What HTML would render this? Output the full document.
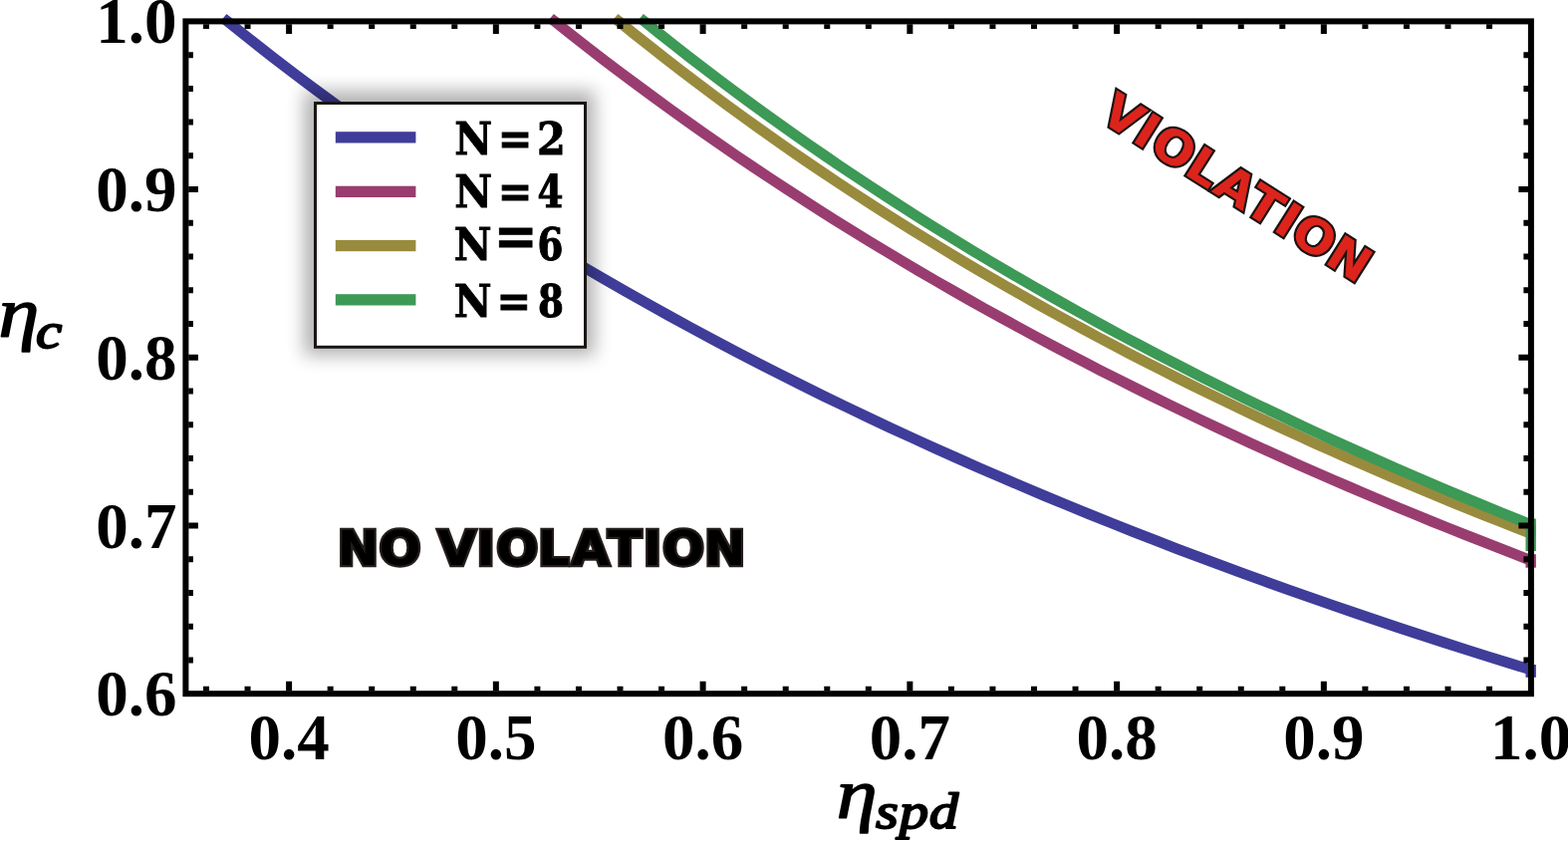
<!DOCTYPE html>
<html lang="en"><head><meta charset="utf-8"><title>Violation threshold plot</title>
<style>
html,body{margin:0;padding:0;background:#fff;}
body{width:1574px;height:844px;overflow:hidden;position:relative;}
svg{position:absolute;left:0;top:0;display:block;}
.sh{filter:blur(9px);}
.tk{font-family:"Liberation Serif","DejaVu Serif",serif;font-weight:bold;font-size:65px;fill:#000;}
.lg{font-family:"DejaVu Serif","Liberation Serif",serif;font-weight:bold;fill:#000;stroke:#000;stroke-width:0.9px;stroke-linejoin:miter;}
.cd{font-family:"DejaVu Serif Condensed","DejaVu Serif","Liberation Serif",serif;}
.ax{font-family:"Liberation Serif","DejaVu Serif",serif;font-weight:normal;font-style:italic;fill:#000;stroke:#000;stroke-linejoin:round;stroke-linecap:round;}
.hv{font-family:"DejaVu Sans","Liberation Sans",sans-serif;font-weight:bold;}
</style></head><body>
<svg width="1574" height="844" viewBox="0 0 1574 844" role="img" aria-label="Violation threshold plot">
<rect width="1574" height="844" fill="#fff"/>
<g fill="none" stroke-width="10.70" stroke-linecap="butt" stroke-linejoin="round">
<path d="M224.1,18.1 L228.3,21.4 L250.5,39.1 L272.6,56.5 L294.8,73.5 L317.0,90.1 L339.2,106.4 L361.4,122.4 L383.5,138.1 L405.7,153.5 L427.9,168.5 L450.1,183.3 L472.3,197.8 L494.4,212.1 L516.6,226.0 L538.8,239.8 L561.0,253.2 L583.2,266.5 L605.3,279.4 L627.5,292.2 L649.7,304.7 L671.9,317.0 L694.1,329.1 L716.2,341.0 L738.4,352.7 L760.6,364.2 L782.8,375.5 L805.0,386.6 L827.1,397.6 L849.3,408.3 L871.5,418.9 L893.7,429.3 L915.9,439.5 L938.0,449.6 L960.2,459.5 L982.4,469.3 L1004.6,478.9 L1026.8,488.4 L1048.9,497.7 L1071.1,506.9 L1093.3,516.0 L1115.5,524.9 L1137.7,533.7 L1159.8,542.3 L1182.0,550.9 L1204.2,559.3 L1226.4,567.6 L1248.6,575.7 L1270.7,583.8 L1292.9,591.7 L1315.1,599.5 L1337.3,607.3 L1359.5,614.9 L1381.6,622.4 L1403.8,629.8 L1426.0,637.1 L1448.2,644.3 L1470.4,651.5 L1492.5,658.5 L1514.7,665.4 L1536.9,672.2" stroke="#3f3d99"/>
<path d="M1536.7,667.0 V679.8" stroke="#3f3d99" stroke-width="10.4"/>
<path d="M552.5,18.1 L556.7,21.4 L573.3,34.6 L589.9,47.6 L606.5,60.4 L623.1,73.0 L639.8,85.4 L656.4,97.6 L673.0,109.7 L689.6,121.6 L706.2,133.3 L722.8,144.9 L739.4,156.3 L756.0,167.5 L772.7,178.6 L789.3,189.5 L805.9,200.3 L822.5,210.9 L839.1,221.4 L855.7,231.8 L872.3,242.0 L889.0,252.0 L905.6,262.0 L922.2,271.8 L938.8,281.5 L955.4,291.0 L972.0,300.5 L988.6,309.8 L1005.3,319.0 L1021.9,328.1 L1038.5,337.1 L1055.1,345.9 L1071.7,354.7 L1088.3,363.3 L1104.9,371.9 L1121.6,380.3 L1138.2,388.6 L1154.8,396.9 L1171.4,405.0 L1188.0,413.0 L1204.6,421.0 L1221.2,428.8 L1237.9,436.6 L1254.5,444.3 L1271.1,451.9 L1287.7,459.4 L1304.3,466.8 L1320.9,474.1 L1337.5,481.4 L1354.1,488.5 L1370.8,495.6 L1387.4,502.6 L1404.0,509.6 L1420.6,516.4 L1437.2,523.2 L1453.8,529.9 L1470.4,536.5 L1487.1,543.1 L1503.7,549.6 L1520.3,556.0 L1536.9,562.4" stroke="#993d71"/>
<path d="M1536.7,556.2 V569.7" stroke="#993d71" stroke-width="10.4"/>
<path d="M617.0,18.0 L621.1,21.4 L636.6,34.0 L652.2,46.3 L667.7,58.5 L683.2,70.5 L698.7,82.3 L714.3,94.0 L729.8,105.5 L745.3,116.8 L760.8,127.9 L776.3,138.9 L791.9,149.8 L807.4,160.5 L822.9,171.0 L838.4,181.4 L853.9,191.6 L869.5,201.7 L885.0,211.7 L900.5,221.6 L916.0,231.3 L931.6,240.8 L947.1,250.3 L962.6,259.6 L978.1,268.8 L993.6,277.9 L1009.2,286.9 L1024.7,295.7 L1040.2,304.5 L1055.7,313.1 L1071.3,321.6 L1086.8,330.0 L1102.3,338.4 L1117.8,346.6 L1133.3,354.7 L1148.9,362.7 L1164.4,370.6 L1179.9,378.4 L1195.4,386.1 L1210.9,393.8 L1226.5,401.3 L1242.0,408.8 L1257.5,416.1 L1273.0,423.4 L1288.6,430.6 L1304.1,437.7 L1319.6,444.8 L1335.1,451.7 L1350.6,458.6 L1366.2,465.4 L1381.7,472.1 L1397.2,478.8 L1412.7,485.4 L1428.2,491.9 L1443.8,498.3 L1459.3,504.7 L1474.8,511.0 L1490.3,517.2 L1505.9,523.4 L1521.4,529.4 L1536.9,535.5" stroke="#998b3d"/>
<path d="M1536.7,526.0 V539.0" stroke="#998b3d" stroke-width="10.4"/>
<path d="M642.5,18.1 L646.7,21.4 L661.8,33.5 L676.8,45.4 L691.9,57.2 L707.0,68.8 L722.1,80.2 L737.2,91.5 L752.3,102.6 L767.4,113.6 L782.5,124.4 L797.6,135.1 L812.6,145.6 L827.7,156.0 L842.8,166.3 L857.9,176.4 L873.0,186.4 L888.1,196.3 L903.2,206.1 L918.3,215.7 L933.4,225.2 L948.4,234.5 L963.5,243.8 L978.6,253.0 L993.7,262.0 L1008.8,270.9 L1023.9,279.7 L1039.0,288.4 L1054.1,297.0 L1069.2,305.5 L1084.2,313.9 L1099.3,322.2 L1114.4,330.5 L1129.5,338.6 L1144.6,346.6 L1159.7,354.5 L1174.8,362.3 L1189.9,370.1 L1204.9,377.7 L1220.0,385.3 L1235.1,392.8 L1250.2,400.2 L1265.3,407.5 L1280.4,414.7 L1295.5,421.9 L1310.6,429.0 L1325.7,436.0 L1340.7,442.9 L1355.8,449.7 L1370.9,456.5 L1386.0,463.2 L1401.1,469.9 L1416.2,476.4 L1431.3,482.9 L1446.4,489.4 L1461.5,495.7 L1476.5,502.0 L1491.6,508.3 L1506.7,514.4 L1521.8,520.5 L1536.9,526.6" stroke="#3d9956"/>
<path d="M1536.7,520.5 V553.0" stroke="#3d9956" stroke-width="10.4"/>
</g>
<rect x="305.0" y="91.0" width="292.0" height="265.8" fill="#000" opacity="0.30" class="sh"/>
<rect x="316.5" y="103.5" width="271.0" height="244.8" fill="#fff" stroke="#1a1614" stroke-width="3"/>
<rect x="336.8" y="132.2" width="80.6" height="11.3" fill="#3f3d99"/>
<rect x="336.8" y="186.7" width="80.6" height="11.3" fill="#993d71"/>
<rect x="336.8" y="240.9" width="80.6" height="11.3" fill="#998b3d"/>
<rect x="336.8" y="295.2" width="80.6" height="11.3" fill="#3d9956"/>
<g transform="translate(0,154.7) scale(0.940,1)"><text class="lg" font-size="44.0" x="485.35" y="0">N<tspan x="515.35 531.56"> =</tspan><tspan x="565.49 573.49"> 2</tspan></text></g>
<g transform="translate(0,208.3) scale(0.940,1)"><text class="lg" font-size="44.0" x="485.35" y="0">N<tspan x="515.35 531.56"> =</tspan><tspan class="cd" x="565.85 573.85"> 4</tspan></text></g>
<g transform="translate(0,261.1) scale(0.940,1)"><text class="lg" font-size="44.0" x="484.82" y="0">N<tspan font-size="55.7" x="514.82 527.34" dy="-5.41"> =</tspan><tspan class="cd" x="565.93 573.93" dy="5.41"> 6</tspan></text></g>
<g transform="translate(0,318.4) scale(0.940,1)"><text class="lg" font-size="44.0" x="484.82" y="0">N<tspan x="514.82 530.39"> =</tspan><tspan class="cd" x="566.41 574.41"> 8</tspan></text></g>
<g stroke="#000" fill="none">
<rect x="186.40" y="21.40" width="1350.50" height="674.80" stroke-width="6.00"/>
<path d="M207.00,24.20 v4.70 M207.00,693.40 v-4.70 M248.55,24.20 v4.70 M248.55,693.40 v-4.70 M290.10,24.20 v9.70 M290.10,693.40 v-9.70 M331.65,24.20 v4.70 M331.65,693.40 v-4.70 M373.20,24.20 v4.70 M373.20,693.40 v-4.70 M414.75,24.20 v4.70 M414.75,693.40 v-4.70 M456.30,24.20 v4.70 M456.30,693.40 v-4.70 M497.85,24.20 v9.70 M497.85,693.40 v-9.70 M539.40,24.20 v4.70 M539.40,693.40 v-4.70 M580.95,24.20 v4.70 M580.95,693.40 v-4.70 M622.50,24.20 v4.70 M622.50,693.40 v-4.70 M664.05,24.20 v4.70 M664.05,693.40 v-4.70 M705.60,24.20 v9.70 M705.60,693.40 v-9.70 M747.15,24.20 v4.70 M747.15,693.40 v-4.70 M788.70,24.20 v4.70 M788.70,693.40 v-4.70 M830.25,24.20 v4.70 M830.25,693.40 v-4.70 M871.80,24.20 v4.70 M871.80,693.40 v-4.70 M913.35,24.20 v9.70 M913.35,693.40 v-9.70 M954.90,24.20 v4.70 M954.90,693.40 v-4.70 M996.45,24.20 v4.70 M996.45,693.40 v-4.70 M1038.00,24.20 v4.70 M1038.00,693.40 v-4.70 M1079.55,24.20 v4.70 M1079.55,693.40 v-4.70 M1121.10,24.20 v9.70 M1121.10,693.40 v-9.70 M1162.65,24.20 v4.70 M1162.65,693.40 v-4.70 M1204.20,24.20 v4.70 M1204.20,693.40 v-4.70 M1245.75,24.20 v4.70 M1245.75,693.40 v-4.70 M1287.30,24.20 v4.70 M1287.30,693.40 v-4.70 M1328.85,24.20 v9.70 M1328.85,693.40 v-9.70 M1370.40,24.20 v4.70 M1370.40,693.40 v-4.70 M1411.95,24.20 v4.70 M1411.95,693.40 v-4.70 M1453.50,24.20 v4.70 M1453.50,693.40 v-4.70 M1495.05,24.20 v4.70 M1495.05,693.40 v-4.70 M189.20,662.46 h4.70 M1534.10,662.46 h-4.70 M189.20,628.72 h4.70 M1534.10,628.72 h-4.70 M189.20,594.98 h4.70 M1534.10,594.98 h-4.70 M189.20,561.24 h4.70 M1534.10,561.24 h-4.70 M189.20,527.50 h9.70 M1534.10,527.50 h-9.70 M189.20,493.76 h4.70 M1534.10,493.76 h-4.70 M189.20,460.02 h4.70 M1534.10,460.02 h-4.70 M189.20,426.28 h4.70 M1534.10,426.28 h-4.70 M189.20,392.54 h4.70 M1534.10,392.54 h-4.70 M189.20,358.80 h9.70 M1534.10,358.80 h-9.70 M189.20,325.06 h4.70 M1534.10,325.06 h-4.70 M189.20,291.32 h4.70 M1534.10,291.32 h-4.70 M189.20,257.58 h4.70 M1534.10,257.58 h-4.70 M189.20,223.84 h4.70 M1534.10,223.84 h-4.70 M189.20,190.10 h9.70 M1534.10,190.10 h-9.70 M189.20,156.36 h4.70 M1534.10,156.36 h-4.70 M189.20,122.62 h4.70 M1534.10,122.62 h-4.70 M189.20,88.88 h4.70 M1534.10,88.88 h-4.70 M189.20,55.14 h4.70 M1534.10,55.14 h-4.70" stroke-width="6.00"/>
</g>
<text class="tk" x="290.1" y="762.4" text-anchor="middle">0.4</text>
<text class="tk" x="497.8" y="762.4" text-anchor="middle">0.5</text>
<text class="tk" x="705.6" y="762.4" text-anchor="middle">0.6</text>
<text class="tk" x="913.3" y="762.4" text-anchor="middle">0.7</text>
<text class="tk" x="1121.1" y="762.4" text-anchor="middle">0.8</text>
<text class="tk" x="1328.8" y="762.4" text-anchor="middle">0.9</text>
<text class="tk" x="1536.6" y="762.4" text-anchor="middle">1.0</text>
<text class="tk" x="177.5" y="43.4" text-anchor="end">1.0</text>
<text class="tk" x="177.5" y="212.1" text-anchor="end">0.9</text>
<text class="tk" x="177.5" y="380.8" text-anchor="end">0.8</text>
<text class="tk" x="177.5" y="549.5" text-anchor="end">0.7</text>
<text class="tk" x="177.5" y="718.2" text-anchor="end">0.6</text>
<g transform="translate(-1.61,338.10) scale(1.150,1)"><text class="ax" font-size="71.4" x="0" y="0" stroke-width="1.5">η<tspan font-size="51.4" stroke-width="2" x="32.67" dy="11.10">c</tspan></text></g>
<g transform="translate(839.69,820.70) scale(1.150,1)"><text class="ax" font-size="71.4" x="0" y="0" stroke-width="1.5">η<tspan font-size="51.0" stroke-width="2" x="34.26" dy="10.70" letter-spacing="0.7">spd</tspan></text></g>
<g transform="translate(340.9,529.8)"><g transform="scale(1.030,1)"><text class="hv" font-size="48.0" x="-1.98 38.39 68.39 95.84 133.64 152.66 193.30 225.94 261.54 296.02 314.65 355.45" y="37.15" fill="#000" stroke="#241d1a" stroke-width="4.30" stroke-linejoin="miter" stroke-miterlimit="2.5" paint-order="stroke">NO VIOLATION</text></g></g>
<g transform="translate(1120.4,87.6) rotate(32.3)"><g transform="scale(1.030,1)"><text class="hv" font-size="48.0" x="1.86 39.66 58.68 99.32 131.96 167.56 202.04 220.67 261.47" y="37.15" fill="#dc241c" stroke="#1a1311" stroke-width="4.30" stroke-linejoin="miter" stroke-miterlimit="2.5" paint-order="stroke">VIOLATION</text></g></g>
</svg>
</body></html>
